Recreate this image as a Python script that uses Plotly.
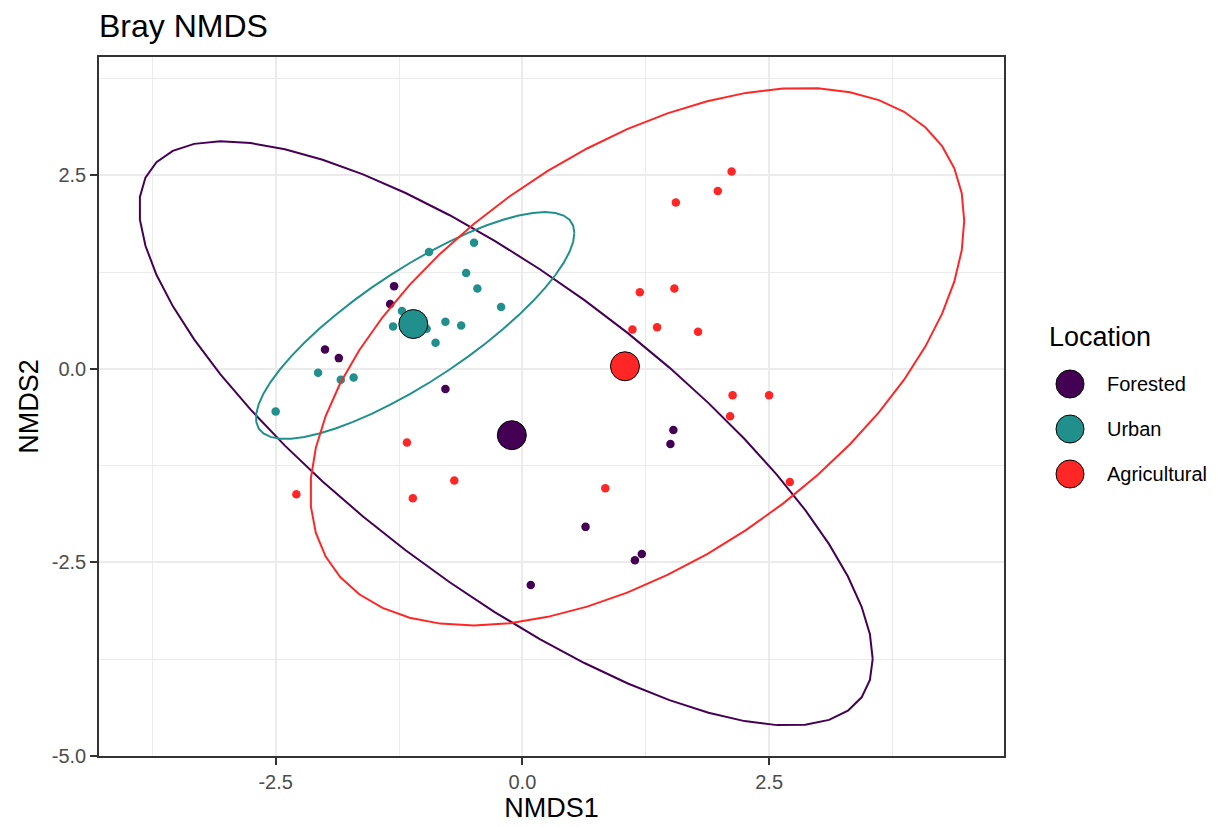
import numpy as np
import plotly.graph_objects as go

# ---------------- data ----------------
groups = ["Forested", "Urban", "Agricultural"]
colors = ["#440154", "#21908C", "#FF2626"]

forested_x = [-1.30, -1.34, -2.00, -1.86, -0.78, 1.53, 1.50, 0.64, 1.21, 1.14, 0.085]
forested_y = [1.07, 0.84, 0.25, 0.14, -0.26, -0.79, -0.97, -2.04, -2.39, -2.47, -2.79]

urban_x = [-0.946, -0.49, -0.57, -0.456, -0.216, -1.22, -1.31, -0.97, -0.78, -0.62,
           -0.88, -2.07, -1.84, -1.71, -2.50]
urban_y = [1.51, 1.63, 1.24, 1.04, 0.80, 0.75, 0.55, 0.52, 0.61, 0.56,
           0.34, -0.05, -0.14, -0.11, -0.55]

agri_x = [2.12, 1.98, 1.555, 1.19, 1.54, 1.115, 1.365, 1.78, 2.13, 2.50,
          2.105, 2.71, 0.84, -1.17, -0.69, -1.11, -2.29]
agri_y = [2.55, 2.30, 2.15, 0.99, 1.04, 0.51, 0.54, 0.48, -0.34, -0.34,
          -0.61, -1.46, -1.54, -0.95, -1.44, -1.67, -1.62]

xs = [forested_x, urban_x, agri_x]
ys = [forested_y, urban_y, agri_y]

x_ticks = [-2.5, 0.0, 2.5]
y_ticks = [-5.0, -2.5, 0.0, 2.5]
x_range = [-4.29, 4.88]
y_range = [-5.0, 4.03]

# ---------------- stat_ellipse (type "t", level 0.95) ----------------
def cov_trob(X, nu=5, maxit=25, tol=0.01):
    n, p = X.shape
    wt = np.ones(n)
    loc = X.mean(axis=0)
    w = np.sqrt(wt)
    Xc = X - loc
    for _ in range(maxit):
        w0 = w
        Xc = X - loc
        _, d, Vt = np.linalg.svd(np.sqrt(w / w.sum())[:, None] * Xc, full_matrices=False)
        wX = Xc @ Vt.T @ np.diag(1.0 / d)
        Q = (wX ** 2).sum(axis=1)
        w = (wt * (nu + p)) / (nu + Q)
        loc = (w[:, None] * X).sum(axis=0) / w.sum()
        if np.all(np.abs(w - w0) < tol):
            break
    sw = np.sqrt(w)[:, None] * Xc
    cov = sw.T @ sw / wt.sum()
    return loc, cov

def ellipse_path(x, y, level=0.95, segments=51):
    X = np.column_stack([x, y])
    n = X.shape[0]
    dfn, dfd = 2, n - 1
    qf = (dfd / 2.0) * ((1 - level) ** (-2.0 / dfd) - 1)
    radius = np.sqrt(dfn * qf)
    center, shape = cov_trob(X)
    R = np.linalg.cholesky(shape).T
    ang = np.arange(segments + 1) * 2 * np.pi / segments
    circ = np.column_stack([np.cos(ang), np.sin(ang)])
    pts = center + radius * (circ @ R)
    return pts[:, 0], pts[:, 1]

# ---------------- figure ----------------
# the page body adds an 8px offset, so the figure is 8px smaller and margins shifted
OFF = 8
W, H = 1225 - OFF, 827 - OFF
L, R_, T, B = 99 - OFF, 221, 57 - OFF, 71
font = "Liberation Sans, Arial, sans-serif"

fig = go.Figure()

for g, c, x, y in zip(groups, colors, xs, ys):
    fig.add_trace(go.Scatter(x=x, y=y, mode="markers", showlegend=False,
                             marker=dict(color=c, size=8.5, line=dict(width=0)),
                             hoverinfo="skip"))

for g, c, x, y in zip(groups, colors, xs, ys):
    ex, ey = ellipse_path(np.array(x), np.array(y))
    fig.add_trace(go.Scatter(x=ex, y=ey, mode="lines", showlegend=False,
                             line=dict(color=c, width=2), hoverinfo="skip"))

for g, c, x, y in zip(groups, colors, xs, ys):
    fig.add_trace(go.Scatter(x=[np.mean(x)], y=[np.mean(y)], mode="markers",
                             showlegend=False,
                             marker=dict(color=c, size=29, line=dict(color="black", width=1)),
                             hoverinfo="skip"))

axis_common = dict(
    showgrid=True, gridcolor="#EBEBEB", gridwidth=2,
    zeroline=False, showline=True, linecolor="#333333", linewidth=1.5, mirror=True,
    ticks="outside", ticklen=7, tickwidth=1.5, tickcolor="#333333",
    tickfont=dict(family=font, size=20, color="#4D4D4D"),
    minor=dict(showgrid=True, gridcolor="#EBEBEB", gridwidth=1, dtick=1.25, ticks=""),
    automargin=False,
)

fig.update_layout(
    width=W, height=H,
    margin=dict(l=L, r=R_, t=T, b=B, autoexpand=False),
    paper_bgcolor="white", plot_bgcolor="white",
    font=dict(family=font, color="black"),
    title=dict(text="Bray NMDS", x=L / W, xanchor="left", xref="container",
               y=1 - 18 / H, yanchor="middle", yref="container",
               font=dict(family=font, size=32, color="black")),
    xaxis=dict(range=x_range, tickvals=x_ticks, ticktext=[f"{v:.1f}" for v in x_ticks],
               title=dict(text="NMDS1", font=dict(family=font, size=27, color="black"), standoff=0),
               **axis_common),
    yaxis=dict(range=y_range, tickvals=y_ticks, ticktext=[f"{v:.1f}" for v in y_ticks],
               title=dict(text="NMDS2", font=dict(family=font, size=27, color="black"), standoff=5),
               **axis_common),
    showlegend=False,
)
fig.update_xaxes(minor=dict(tick0=-3.75))
fig.update_yaxes(minor=dict(tick0=-3.75))

# ---------------- manual legend (ggplot style) ----------------
pw, ph = W - L - R_, H - T - B
def px2paper(px, py):
    # px, py are positions in the reference image
    return (px - OFF - L) / pw, (H - B - (py - OFF)) / ph

lx, ly = px2paper(1047, 337)
fig.add_annotation(x=lx, y=ly, xref="paper", yref="paper", text="Location",
                   showarrow=False, xanchor="left", yanchor="middle",
                   font=dict(family=font, size=27, color="black"))
item_y = [384, 429, 474]
for g, c, iy in zip(groups, colors, item_y):
    cx, cy = px2paper(1070, iy)
    fig.add_shape(type="circle", xref="paper", yref="paper",
                  xsizemode="pixel", ysizemode="pixel", xanchor=cx, yanchor=cy,
                  x0=-14, x1=14, y0=-14, y1=14,
                  fillcolor=c, line=dict(color="black", width=1))
    tx, ty = px2paper(1105, iy)
    fig.add_annotation(x=tx, y=ty, xref="paper", yref="paper", text=g,
                       showarrow=False, xanchor="left", yanchor="middle",
                       font=dict(family=font, size=20, color="black"))

fig.write_html("out.html")
